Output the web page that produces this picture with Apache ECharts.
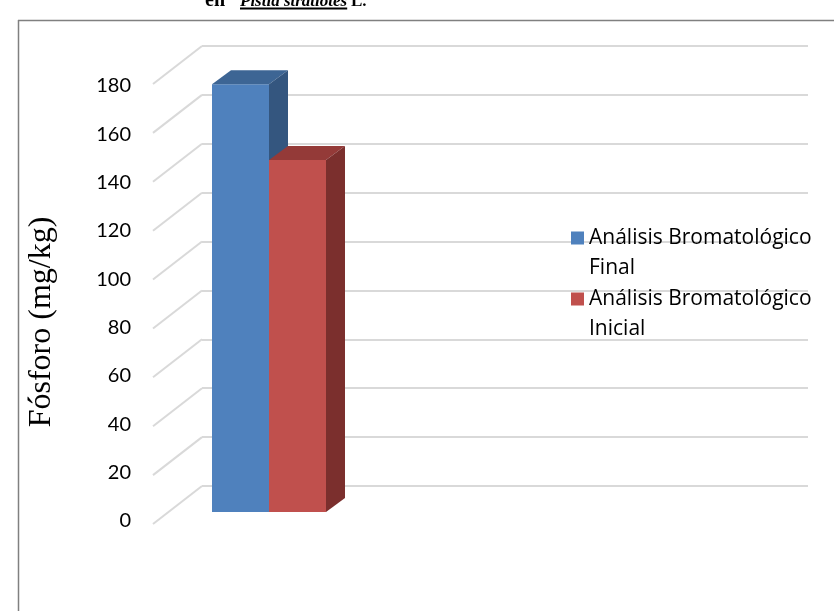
<!DOCTYPE html>
<html>
<head>
<meta charset="utf-8">
<script src="https://cdn.jsdelivr.net/npm/echarts@6/dist/echarts.min.js"></script>
<style>
  html, body { margin: 0; padding: 0; background: #fff; }
  #chart { width: 834px; height: 611px; }
</style>
</head>
<body>
<div id="chart"></div>
<script>
// ---- data ----
const categories = ['Fósforo'];
const seriesNames = ['Análisis Bromatológico Final', 'Análisis Bromatológico Inicial'];
const finalValues = [175];
const initialValues = [144];
const yTicks = [0, 20, 40, 60, 80, 100, 120, 140, 160, 180];
const yAxisTitle = 'Fósforo (mg/kg)';
const captionParts = ['en', 'Pistia stratiotes', 'L.'];

// ---- 3D look ----
const FLOOR_DEPTH = [-49, 38];      // back wall -> front edge of the floor
const FACE_SHIFT = [-33.5, 26];     // back wall -> front face of the columns
const COLUMN_DEPTH = [19, -14];     // front face -> back face of a column
const COLUMN_WIDTH = 57;
const FIRST_COLUMN_INSET = 43.5;

const palette = [
  { front: '#4f81bd', top: '#3d6594', side: '#34567f' },
  { front: '#c0504d', top: '#943a38', side: '#7b2f2d' }
];

const chart = echarts.init(document.getElementById('chart'), null, { renderer: 'canvas' });

function bandStart(api) {
  return api.coord([0, 0])[0] - api.size([1, 0])[0] / 2;
}

function columnRenderer(slot) {
  return function (params, api) {
    const value = api.value(1);
    const left = bandStart(api) + FIRST_COLUMN_INSET + slot * COLUMN_WIDTH + FACE_SHIFT[0];
    const yTop = api.coord([0, value])[1] + FACE_SHIFT[1];
    const yBase = api.coord([0, 0])[1] + FACE_SHIFT[1];
    const right = left + COLUMN_WIDTH;
    const dx = COLUMN_DEPTH[0], dy = COLUMN_DEPTH[1];
    const c = palette[slot];
    return {
      type: 'group',
      children: [
        { type: 'rect', shape: { x: left, y: yTop, width: COLUMN_WIDTH, height: yBase - yTop },
          style: { fill: c.front } },
        { type: 'polygon', shape: { points: [[left, yTop], [right, yTop], [right + dx, yTop + dy], [left + dx, yTop + dy]] },
          style: { fill: c.top } },
        { type: 'polygon', shape: { points: [[right, yTop], [right + dx, yTop + dy], [right + dx, yBase + dy], [right, yBase]] },
          style: { fill: c.side } }
      ]
    };
  };
}

function floorLineRenderer(params, api) {
  const v = api.value(1);
  const x = bandStart(api);
  const y = api.coord([0, v])[1];
  return {
    type: 'line',
    shape: { x1: x, y1: y, x2: x + FLOOR_DEPTH[0], y2: y + FLOOR_DEPTH[1] },
    style: { stroke: '#d9d9d9', lineWidth: 2 }
  };
}

// caption line running off the top edge of the page
const measure = document.createElement('canvas').getContext('2d');
const capSize = 17;
measure.font = 'italic bold ' + capSize + 'px "Liberation Serif"';
const speciesWidth = measure.measureText(captionParts[1]).width;
const capBaseline = 6;
const capStyle = { fontFamily: 'Liberation Serif', fontSize: capSize, fontWeight: 'bold', fill: '#000', verticalAlign: 'bottom' };
const capXs = [205, 240, 351];

const option = {
  animation: false,
  backgroundColor: '#fff',
  legend: {
    orient: 'vertical',
    left: 566,
    top: 218,
    itemWidth: 13,
    itemHeight: 60,
    itemGap: 1,
    symbolKeepAspect: false,
    icon: 'path://M0,8.5H13V21.5H0Z M0,0H0.01V0.01H0Z M0,59.99H0.01V60H0Z',
    formatter: function (name) {
      const i = name.lastIndexOf(' ');
      return name.slice(0, i) + '\n' + name.slice(i + 1);
    },
    textStyle: { fontFamily: 'Open Sans', fontSize: 21, color: '#000', lineHeight: 30 },
    data: seriesNames
  },
  grid: [
    { left: 202, right: 26, top: 46, bottom: 125 },
    { left: 153, right: 26, top: 86, bottom: 90 }
  ],
  xAxis: [
    { type: 'category', data: categories, gridIndex: 0, show: false },
    { type: 'category', data: categories, gridIndex: 1, show: false }
  ],
  yAxis: [
    {
      type: 'value', gridIndex: 0, min: 0, max: 180, interval: 20,
      axisLine: { show: false }, axisTick: { show: false }, axisLabel: { show: false },
      splitLine: { show: true, lineStyle: { color: '#d9d9d9', width: 2 } }
    },
    {
      type: 'value', gridIndex: 1, min: 0, max: 180, interval: 20,
      axisLine: { show: false }, axisTick: { show: false }, splitLine: { show: false },
      axisLabel: { margin: 22, fontFamily: 'Lato', fontSize: 20, color: '#000' }
    }
  ],
  series: [
    {
      type: 'custom', name: 'floor', xAxisIndex: 0, yAxisIndex: 0, z: 1, silent: true,
      renderItem: floorLineRenderer,
      data: yTicks.map(v => [0, v])
    },
    {
      type: 'custom', name: seriesNames[0], xAxisIndex: 0, yAxisIndex: 0, z: 3,
      itemStyle: { color: palette[0].front },
      renderItem: columnRenderer(0),
      data: finalValues.map((v, i) => [i, v])
    },
    {
      type: 'custom', name: seriesNames[1], xAxisIndex: 0, yAxisIndex: 0, z: 4,
      itemStyle: { color: palette[1].front },
      renderItem: columnRenderer(1),
      data: initialValues.map((v, i) => [i, v])
    }
  ],
  graphic: [
    // frame
    { type: 'line', shape: { x1: 18.5, y1: 20, x2: 18.5, y2: 611 }, style: { stroke: '#808080', lineWidth: 1.5 } },
    { type: 'line', shape: { x1: 18, y1: 20.5, x2: 834, y2: 20.5 }, style: { stroke: '#808080', lineWidth: 1.5 } },
    // axis title
    { type: 'text', x: 42, y: 322, rotation: Math.PI / 2,
      style: { text: yAxisTitle, fontFamily: 'Liberation Serif', fontSize: 32, fill: '#000', align: 'center', verticalAlign: 'middle' } },
    // caption
    { type: 'text', x: capXs[0], y: capBaseline + 5,
      style: Object.assign({}, capStyle, { text: captionParts[0], fontSize: 20 }) },
    { type: 'text', x: capXs[1], y: capBaseline + 4,
      style: Object.assign({}, capStyle, { text: captionParts[1], fontStyle: 'italic' }) },
    { type: 'text', x: capXs[2], y: capBaseline + 4,
      style: Object.assign({}, capStyle, { text: captionParts[2] }) },
    { type: 'line', shape: { x1: capXs[1], y1: capBaseline + 2.5, x2: capXs[1] + speciesWidth, y2: capBaseline + 2.5 },
      style: { stroke: '#000', lineWidth: 2 } }
  ]
};

chart.setOption(option);
</script>
</body>
</html>
